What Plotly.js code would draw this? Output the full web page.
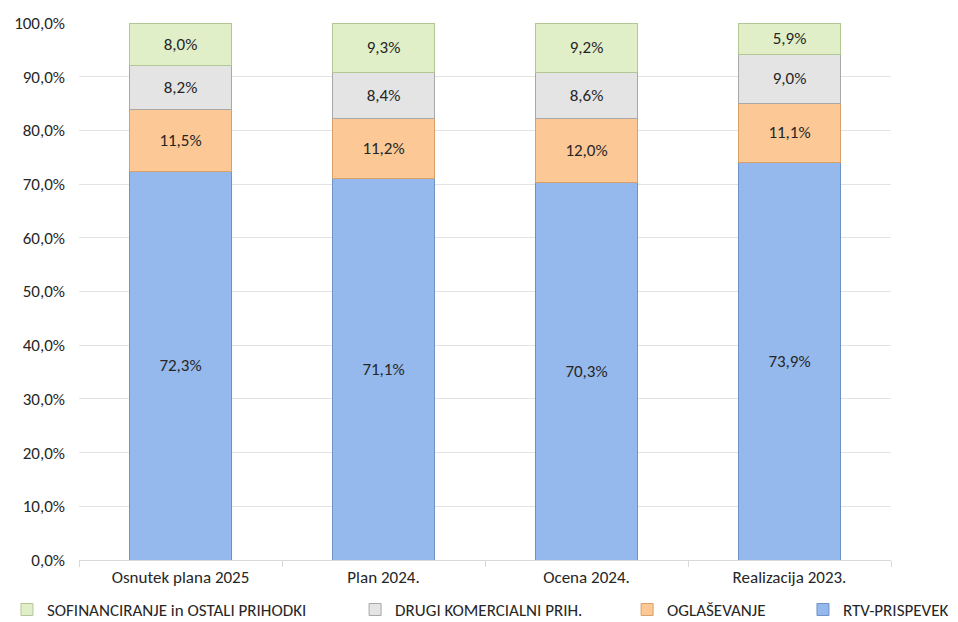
<!DOCTYPE html>
<html><head><meta charset="utf-8">
<script src="https://cdn.plot.ly/plotly-3.0.1.min.js"></script>
<style>html,body{margin:0;padding:0;background:#fff}#chart{width:958px;height:622px}</style>
</head><body><div id="chart"></div>
<script>
const categories = ["Osnutek plana 2025", "Plan 2024.", "Ocena 2024.", "Realizacija 2023."];
const rtvPrispevek = [72.3, 71.1, 70.3, 73.9];
const oglasevanje = [11.5, 11.2, 12.0, 11.1];
const drugiKomercialni = [8.2, 8.4, 8.6, 9.0];
const sofinanciranje = [8.0, 9.3, 9.2, 5.9];
const seriesNames = ["RTV-PRISPEVEK", "OGLAŠEVANJE", "DRUGI KOMERCIALNI PRIH.", "SOFINANCIRANJE in OSTALI PRIHODKI"];
const yTickVals = [0,10,20,30,40,50,60,70,80,90,100];
const yTickText = ["0,0%","10,0%","20,0%","30,0%","40,0%","50,0%","60,0%","70,0%","80,0%","90,0%","100,0%"];

const fmt = v => v.toFixed(1).replace('.', ',') + '%';
const FONT = "Calibri, Carlito, Lato, 'Open Sans', sans-serif";
const FS = 17;

const series = [
  {name: seriesNames[0], y: rtvPrispevek, fill: '#95B9EC', line: '#6F92C4', legend: 'legend4'},
  {name: seriesNames[1], y: oglasevanje, fill: '#FBC896', line: '#D9A06A', legend: 'legend3'},
  {name: seriesNames[2], y: drugiKomercialni, fill: '#E4E4E4', line: '#A8A8A8', legend: 'legend2'},
  {name: seriesNames[3], y: sofinanciranje, fill: '#E1EFC9', line: '#B3C795', legend: 'legend'}
];

const traces = series.map(s => ({
  type: 'bar',
  name: s.name,
  x: categories,
  y: s.y,
  text: s.y.map(fmt),
  textposition: 'inside',
  insidetextanchor: 'middle',
  textangle: 0,
  textfont: {family: FONT, size: FS, color: '#262626'},
  hoverinfo: 'name+text',
  marker: {color: s.fill, line: {color: s.line, width: 1}},
  legend: s.legend
}));

const legendBase = {
  orientation: 'h', yanchor: 'middle', y: -0.093, xanchor: 'left',
  font: {family: FONT, size: FS, color: '#262626'},
  bgcolor: 'rgba(0,0,0,0)', itemwidth: 30
};

const layout = {
  width: 958, height: 622,
  margin: {l: 79, r: 67, t: 23, b: 62, autoexpand: false},
  paper_bgcolor: '#ffffff', plot_bgcolor: '#ffffff',
  barmode: 'stack', barnorm: 'percent', bargap: 0.5,
  font: {family: FONT, size: FS, color: '#404040'},
  xaxis: {
    type: 'category', tickson: 'boundaries', ticks: 'outside', ticklen: 6,
    tickcolor: '#D9D9D9', showline: true, linecolor: '#D9D9D9', linewidth: 1,
    showgrid: false, ticklabelstandoff: 2,
    tickfont: {family: FONT, size: FS, color: '#262626'}
  },
  yaxis: {
    range: [0, 100], tickvals: yTickVals, ticktext: yTickText,
    showgrid: true, gridcolor: '#E3E3E3', gridwidth: 1, zeroline: false,
    showline: false, ticks: '', ticklen: 0, ticklabelstandoff: 13,
    tickfont: {family: FONT, size: FS, color: '#262626'}
  },
  legend: Object.assign({}, legendBase, {x: -0.0887}),
  legend2: Object.assign({}, legendBase, {x: 0.340}),
  legend3: Object.assign({}, legendBase, {x: 0.675}),
  legend4: Object.assign({}, legendBase, {x: 0.8916}),
  showlegend: true
};

Plotly.newPlot('chart', traces, layout, {displayModeBar: false, staticPlot: true});
</script>
</body></html>
